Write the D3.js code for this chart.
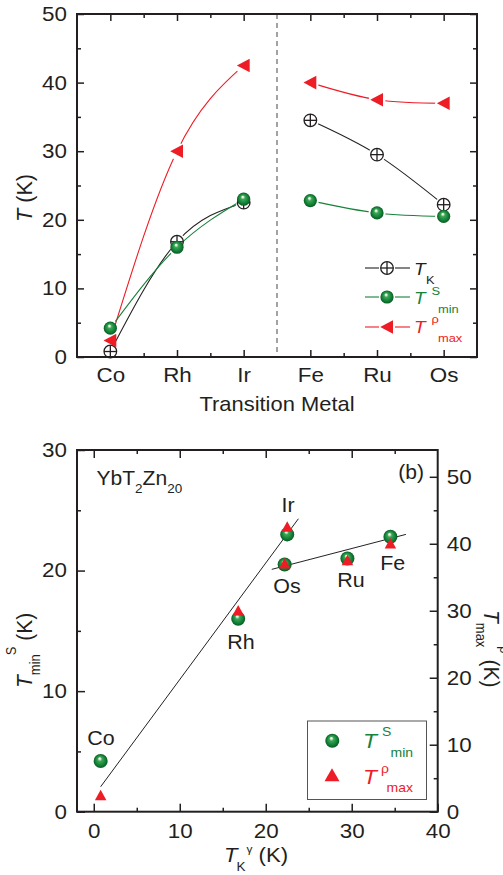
<!DOCTYPE html>
<html><head><meta charset="utf-8">
<script src="https://cdn.jsdelivr.net/npm/d3@7"></script>
<style>
body{margin:0;background:#fff}
svg{display:block}
text{font-family:"Liberation Sans",Arial,sans-serif}
</style>
</head><body>
<svg id="c" width="503" height="875"></svg>
<script>
// ---------- data ----------
const metals = ["Co", "Rh", "Ir", "Fe", "Ru", "Os"];
const TK = [0.8, 16.8, 22.5, 34.5, 29.5, 22.2];
const TminS = [4.2, 16.0, 23.0, 22.8, 21.0, 20.5];
const TmaxRho = [2.4, 30.0, 42.5, 40.0, 37.5, 37.0];
const groups = [[0, 1, 2], [3, 4, 5]];
const topYTicks = [0, 10, 20, 30, 40, 50];
const topYMinor = [5, 15, 25, 35, 45];
const botXTicks = [0, 10, 20, 30, 40];
const botXMinor = [5, 15, 25, 35];
const botYLeftTicks = [0, 10, 20, 30];
const botYLeftMinor = [5, 15, 25];
const botYRightTicks = [0, 10, 20, 30, 40, 50];
const botYRightMinor = [5, 15, 25, 35, 45];
const fitLow = [[0.8, 2.07], [23.8, 24.3]];
const fitHigh = [[20.7, 20.1], [36.3, 23.0]];

const ink = "#231f20", green = "#17823a", red = "#ee1c25", blackLine = "#222";
const font = '"Liberation Sans", Arial, sans-serif';
const SX = 1.12; // horizontal stretch of the lettering
const svg = d3.select("#c");
const defs = svg.append("defs");

// sphere gradient
const grad = defs.append("radialGradient").attr("id", "sphere")
  .attr("cx", "0.5").attr("cy", "0.5").attr("r", "0.5").attr("fx", "0.42").attr("fy", "0.3");
[[0, "#ffffff"], [0.14, "#cfead3"], [0.32, "#3ea653"], [0.7, "#13843a"], [1, "#0a5a23"]]
  .forEach(([o, c]) => grad.append("stop").attr("offset", o).attr("stop-color", c));

function styleAxis(sel, fs, side) {
  sel.select(".domain").remove();
  sel.attr("font-family", font).attr("font-size", fs);
  sel.selectAll("text").attr("fill", ink).each(function () {
    const t = d3.select(this);
    const x = +t.attr("x") || 0;
    if (side === "left" || side === "right") t.attr("x", x / SX);
    t.attr("transform", `scale(${SX},1)`);
  });
  sel.selectAll("line").attr("stroke", ink).attr("stroke-width", 1.5);
}
function txt(g, x, y, fs, str, opts = {}) {
  const t = g.append("text").attr("transform", `translate(${x},${y}) scale(${opts.sx || SX},1)`)
    .attr("font-size", fs).attr("fill", opts.color || ink);
  if (opts.anchor) t.attr("text-anchor", opts.anchor);
  if (opts.italic) t.attr("font-style", "italic");
  if (str != null) t.text(str);
  return t;
}

// ================= TOP PANEL =================
const xT = d3.scaleLinear().domain([0.5, 6.5]).range([77, 477]);
const yT = d3.scaleLinear().domain([0, 50]).range([357, 14]);
const gTop = svg.append("g");

// dashed divider
gTop.append("line").attr("x1", xT(3.5)).attr("x2", xT(3.5)).attr("y1", yT(50)).attr("y2", yT(0))
  .attr("stroke", "#666").attr("stroke-width", 1.2).attr("stroke-dasharray", "5,4");

// axes
gTop.append("g").attr("transform", `translate(0,${yT(0)})`)
  .call(d3.axisBottom(xT).tickValues([1, 2, 3, 4, 5, 6]).tickFormat(i => metals[i - 1]).tickSizeInner(-7).tickSizeOuter(0).tickPadding(10.5))
  .call(s => styleAxis(s, 20, "bottom"));
gTop.append("g").attr("transform", `translate(0,${yT(0)})`)
  .call(d3.axisBottom(xT).tickValues([1.5, 2.5, 4.5, 5.5]).tickFormat("").tickSizeInner(-4).tickSizeOuter(0))
  .call(s => styleAxis(s, 20, "bottom"));
gTop.append("g").attr("transform", `translate(0,${yT(50)})`)
  .call(d3.axisTop(xT).tickValues([1, 2, 3, 4, 5, 6]).tickFormat("").tickSizeInner(-7).tickSizeOuter(0))
  .call(s => styleAxis(s, 20, "top"));
gTop.append("g").attr("transform", `translate(0,${yT(50)})`)
  .call(d3.axisTop(xT).tickValues([1.5, 2.5, 4.5, 5.5]).tickFormat("").tickSizeInner(-4).tickSizeOuter(0))
  .call(s => styleAxis(s, 20, "top"));
gTop.append("g").attr("transform", `translate(${xT(0.5)},0)`)
  .call(d3.axisLeft(yT).tickValues(topYTicks).tickSizeInner(-7).tickSizeOuter(0).tickPadding(10))
  .call(s => styleAxis(s, 20, "left"));
gTop.append("g").attr("transform", `translate(${xT(0.5)},0)`)
  .call(d3.axisLeft(yT).tickValues(topYMinor).tickFormat("").tickSizeInner(-4).tickSizeOuter(0))
  .call(s => styleAxis(s, 20, "left"));
gTop.append("g").attr("transform", `translate(${xT(6.5)},0)`)
  .call(d3.axisRight(yT).tickValues(topYTicks).tickFormat("").tickSizeInner(-7).tickSizeOuter(0))
  .call(s => styleAxis(s, 20, "right"));
gTop.append("g").attr("transform", `translate(${xT(6.5)},0)`)
  .call(d3.axisRight(yT).tickValues(topYMinor).tickFormat("").tickSizeInner(-4).tickSizeOuter(0))
  .call(s => styleAxis(s, 20, "right"));

// series lines with gaps near own markers (mask)
const seriesTop = [
  { id: "rho", vals: TmaxRho, color: red },
  { id: "tk", vals: TK, color: blackLine },
  { id: "tmin", vals: TminS, color: green }
];
seriesTop.forEach(s => {
  const m = defs.append("mask").attr("id", "m-" + s.id).attr("maskUnits", "userSpaceOnUse")
    .attr("x", 0).attr("y", 0).attr("width", 503).attr("height", 875);
  m.append("rect").attr("width", 503).attr("height", 875).attr("fill", "#fff");
  s.vals.forEach((v, i) => m.append("circle").attr("cx", xT(i + 1)).attr("cy", yT(v)).attr("r", 8.5).attr("fill", "#000"));
  const lg = d3.line().x(i => xT(i + 1)).y(i => yT(s.vals[i])).curve(d3.curveNatural);
  groups.forEach(gr => gTop.append("path").attr("d", lg(gr)).attr("fill", "none")
    .attr("stroke", s.color).attr("stroke-width", 1.1).attr("mask", `url(#m-${s.id})`));
});

function tkMarker(g, x, y) {
  g.append("circle").attr("cx", x).attr("cy", y).attr("r", 6.3).attr("fill", "#fff").attr("stroke", ink).attr("stroke-width", 1.3);
  g.append("line").attr("x1", x - 6.3).attr("x2", x + 6.3).attr("y1", y).attr("y2", y).attr("stroke", ink).attr("stroke-width", 1.3);
  g.append("line").attr("x1", x).attr("x2", x).attr("y1", y - 6.3).attr("y2", y + 6.3).attr("stroke", ink).attr("stroke-width", 1.3);
}
function sphere(g, x, y, r) {
  g.append("circle").attr("cx", x).attr("cy", y).attr("r", r).attr("fill", "url(#sphere)");
}
function triLeft(g, x, y) {
  g.append("path").attr("d", `M${x - 6.8},${y} L${x + 6},${y - 6.8} L${x + 6},${y + 6.8} Z`).attr("fill", red);
}
function triUp(g, x, y, w, h) {
  g.append("path").attr("d", `M${x},${y - h * 0.55} L${x - w / 2},${y + h * 0.45} L${x + w / 2},${y + h * 0.45} Z`).attr("fill", red);
}

TK.forEach((v, i) => tkMarker(gTop, xT(i + 1), yT(v)));
TminS.forEach((v, i) => sphere(gTop, xT(i + 1), yT(v), 6.6));
TmaxRho.forEach((v, i) => triLeft(gTop, xT(i + 1), yT(v)));

// frame
gTop.append("rect").attr("x", xT(0.5)).attr("y", yT(50)).attr("width", xT(6.5) - xT(0.5)).attr("height", yT(0) - yT(50))
  .attr("fill", "none").attr("stroke", ink).attr("stroke-width", 2);

// axis titles
txt(gTop, 277, 411, 20.5, "Transition Metal", { anchor: "middle", sx: 1.07 });
const ytT = gTop.append("text").attr("transform", "translate(32,222) rotate(-90) scale(1.03,1.08)").attr("font-size", 21).attr("fill", ink);
ytT.append("tspan").attr("font-style", "italic").text("T");
ytT.append("tspan").text(" (K)");

// top legend
const legRows = [
  { y: 268, color: blackLine, kind: "tk" },
  { y: 297, color: green, kind: "tmin" },
  { y: 327, color: red, kind: "rho" }
];
legRows.forEach(r => {
  gTop.append("line").attr("x1", 365).attr("x2", 379).attr("y1", r.y).attr("y2", r.y).attr("stroke", r.color).attr("stroke-width", 1.1);
  gTop.append("line").attr("x1", 395).attr("x2", 410).attr("y1", r.y).attr("y2", r.y).attr("stroke", r.color).attr("stroke-width", 1.1);
  if (r.kind === "tk") tkMarker(gTop, 387, r.y);
  if (r.kind === "tmin") sphere(gTop, 387, r.y, 6.6);
  if (r.kind === "rho") triLeft(gTop, 387, r.y);
});
function legText(g, x, yBase, color, fsMain, sup, sub, supX, supY, subX, subY, fsSmall) {
  txt(g, x, yBase, fsMain, "T", { color: color, italic: true });
  if (sup) txt(g, supX, supY, fsSmall, sup, { color: color });
  if (sub) txt(g, subX, subY, fsSmall, sub, { color: color });
}
legText(gTop, 414, 274.5, ink, 17, null, "K", 0, 0, 426, 284, 11.5);
legText(gTop, 414, 303.5, green, 17, "S", "min", 431.5, 295, 438, 313, 11.5);
legText(gTop, 414, 333, red, 17, "ρ", "max", 431.5, 323, 438, 342, 11.5);

// ================= BOTTOM PANEL =================
const xB = d3.scaleLinear().domain([-1.95, 40]).range([77, 437.7]);
const yBL = d3.scaleLinear().domain([0, 30]).range([811.7, 450]);
const yBR = d3.scaleLinear().domain([0, 54]).range([811.7, 450]);
const gBot = svg.append("g");

gBot.append("g").attr("transform", `translate(0,${yBL(0)})`)
  .call(d3.axisBottom(xB).tickValues(botXTicks).tickSizeInner(-8).tickSizeOuter(0).tickPadding(12))
  .call(s => styleAxis(s, 20, "bottom"));
gBot.append("g").attr("transform", `translate(0,${yBL(0)})`)
  .call(d3.axisBottom(xB).tickValues(botXMinor).tickFormat("").tickSizeInner(-4).tickSizeOuter(0))
  .call(s => styleAxis(s, 20, "bottom"));
gBot.append("g").attr("transform", `translate(0,${yBL(30)})`)
  .call(d3.axisTop(xB).tickValues(botXTicks.slice(0, 4)).tickFormat("").tickSizeInner(-8).tickSizeOuter(0))
  .call(s => styleAxis(s, 20, "top"));
gBot.append("g").attr("transform", `translate(0,${yBL(30)})`)
  .call(d3.axisTop(xB).tickValues(botXMinor).tickFormat("").tickSizeInner(-4).tickSizeOuter(0))
  .call(s => styleAxis(s, 20, "top"));
gBot.append("g").attr("transform", `translate(${xB.range()[0]},0)`)
  .call(d3.axisLeft(yBL).tickValues(botYLeftTicks).tickSizeInner(-8).tickSizeOuter(0).tickPadding(10))
  .call(s => styleAxis(s, 20, "left"));
gBot.append("g").attr("transform", `translate(${xB.range()[0]},0)`)
  .call(d3.axisLeft(yBL).tickValues(botYLeftMinor).tickFormat("").tickSizeInner(-4).tickSizeOuter(0))
  .call(s => styleAxis(s, 20, "left"));
gBot.append("g").attr("transform", `translate(${xB.range()[1]},0)`)
  .call(d3.axisRight(yBR).tickValues(botYRightTicks).tickSizeInner(-8).tickSizeOuter(0).tickPadding(9))
  .call(s => styleAxis(s, 20, "right"));
gBot.append("g").attr("transform", `translate(${xB.range()[1]},0)`)
  .call(d3.axisRight(yBR).tickValues(botYRightMinor).tickFormat("").tickSizeInner(-4).tickSizeOuter(0))
  .call(s => styleAxis(s, 20, "right"));

// fit lines
const fitLine = d3.line().x(d => xB(d[0])).y(d => yBL(d[1]));
[fitLow, fitHigh].forEach(f => gBot.append("path").attr("d", fitLine(f)).attr("fill", "none").attr("stroke", "#222").attr("stroke-width", 1));

// points
TminS.forEach((v, i) => sphere(gBot, xB(TK[i]), yBL(v), 7));
TmaxRho.forEach((v, i) => triUp(gBot, xB(TK[i]), yBR(v), 11.5, 10.5));

// point labels
const ptLabels = [
  { t: "Co", x: 101, y: 745 }, { t: "Rh", x: 241, y: 649 }, { t: "Ir", x: 288, y: 512 },
  { t: "Os", x: 287, y: 593 }, { t: "Ru", x: 351, y: 587 }, { t: "Fe", x: 392.7, y: 570 }
];
ptLabels.forEach(l => txt(gBot, l.x, l.y, 19.5, l.t, { anchor: "middle", sx: 1.1 }));

// frame
gBot.append("rect").attr("x", xB.range()[0]).attr("y", yBL(30)).attr("width", xB.range()[1] - xB.range()[0]).attr("height", yBL(0) - yBL(30))
  .attr("fill", "none").attr("stroke", ink).attr("stroke-width", 2);

// compound label
const comp = txt(gBot, 96.5, 485, 19.5, null, { sx: 1.08 });
comp.append("tspan").text("YbT");
comp.append("tspan").attr("font-size", 12.5).attr("dy", 8).text("2");
comp.append("tspan").attr("dy", -8).text("Zn");
comp.append("tspan").attr("font-size", 12.5).attr("dy", 8).text("20");
txt(gBot, 424, 479, 19.5, "(b)", { anchor: "end", sx: 1.08 });

// legend box
gBot.append("rect").attr("x", 307.5).attr("y", 721).attr("width", 119).attr("height", 78.5)
  .attr("fill", "#fff").attr("stroke", "#555").attr("stroke-width", 1);
sphere(gBot, 332.3, 740.7, 7);
triUp(gBot, 332, 775.5, 15, 13);
legText(gBot, 363, 748, green, 20.5, "S", "min", 382, 736, 390.5, 757, 12.5);
legText(gBot, 363, 784, red, 20.5, "ρ", "max", 381, 773, 386.5, 792, 12.5);

// axis titles
const xtB = txt(gBot, 224, 862, 20.5, null, { sx: 1.08 });
xtB.append("tspan").attr("font-style", "italic").text("T");
xtB.append("tspan").attr("font-size", 12.5).attr("dy", 9).attr("dx", -1).text("K");
xtB.append("tspan").attr("font-size", 11).attr("dy", -18).attr("dx", 1).text("γ");
xtB.append("tspan").attr("dy", 9).text(" (K)");

const ytL = gBot.append("text").attr("transform", "translate(32,688) rotate(-90) scale(1,1.08)").attr("font-size", 21).attr("fill", ink);
ytL.append("tspan").attr("font-style", "italic").text("T");
ytL.append("tspan").attr("font-size", 13).attr("dy", 7).text("min");
ytL.append("tspan").attr("font-size", 13).attr("dy", -22).attr("dx", -1).text("S");
ytL.append("tspan").attr("dy", 15).text(" (K)");

const ytR = gBot.append("text").attr("transform", "translate(484,610) rotate(90) scale(1,1.08)").attr("font-size", 21).attr("fill", ink);
ytR.append("tspan").attr("font-style", "italic").text("T");
ytR.append("tspan").attr("font-size", 13).attr("dy", 7).text("max");
ytR.append("tspan").attr("font-size", 13).attr("dy", -22).attr("dx", -1).text("ρ");
ytR.append("tspan").attr("dy", 15).text(" (K)");
</script>
</body></html>
